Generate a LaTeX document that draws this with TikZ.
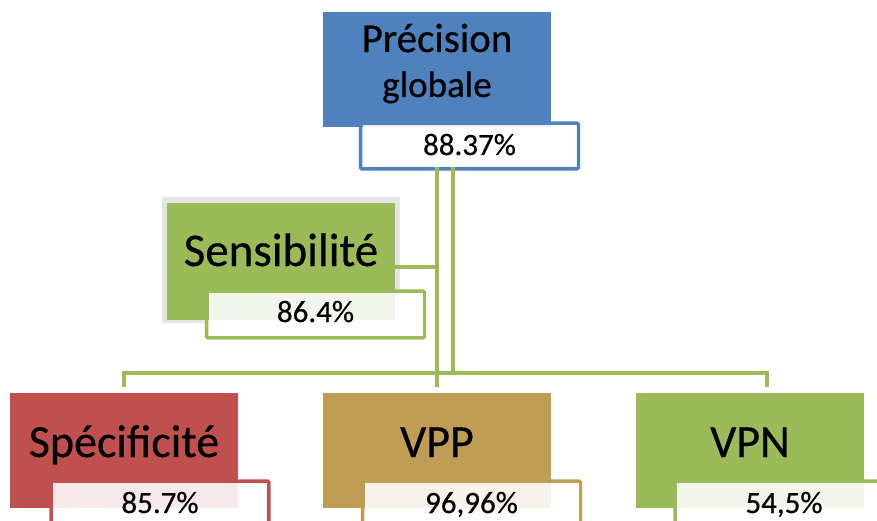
\documentclass[tikz,border=0pt]{standalone}
\usepackage{fontspec}
\setmainfont{Carlito}[FakeBold=0.5]
\usepackage{xcolor}
\usepackage{tikz}
\usetikzlibrary{backgrounds,positioning}
\definecolor{blue}{HTML}{4F81BD}
\definecolor{red}{HTML}{C0504D}
\definecolor{tan}{HTML}{C09D54}
\definecolor{green}{HTML}{9BBB59}
\definecolor{rim}{HTML}{E4E4E4}
\tikzset{
  block/.style={
    minimum width=228pt, minimum height=115pt, inner sep=0pt, text=black,
    font=\fontsize{46}{50}\selectfont, text height=20pt, text depth=7pt
  },
  headbox/.style={block, fill=blue, align=center, font=\fontsize{41}{45}\selectfont, text height=60pt, text depth=5pt},
  sensbox/.style={block, fill=green, minimum height=117pt, font=\fontsize{47}{50}\selectfont, text height=20pt, text depth=11pt},
  specbox/.style={block, fill=red},
  vppbox/.style={block, fill=tan},
  vpnbox/.style={block, fill=green},
  valbox/.style={
    minimum width=214pt, minimum height=42pt, inner sep=0pt, fill=white,
    fill opacity=.88, text opacity=1, font=\fontsize{31}{34}\selectfont,
    text height=22pt, text depth=4pt
  },
  valline/.style={line width=3.5pt, fill=white, rounded corners=1.5pt},
  link/.style={draw=green, line width=4.5pt}
}

\begin{document}
\begin{tikzpicture}[x=1pt,y=-1pt]
  \useasboundingbox (0,0) rectangle (877,521);

  % main boxes
  \node[headbox] (prec) at (437,69.5) {Précision\\{\fontsize{37}{45}\selectfont globale}};
  \node[sensbox] (sens) at (281,261.5) {Sensibilité};
  \node[specbox] (spec) at (124,450.5) {Spécificité};
  \node[vppbox] (vpp) at (437,450.5) {VPP};
  \node[vpnbox] (vpn) at (750,450.5) {VPN};

  % value boxes
  \node[valbox] (precv) at (469.5,146) {88.37\%};
  \node[valbox, minimum height=43pt, text height=20pt, text depth=5pt] (sensv) at (315.5,314.5) {86.4\%};
  \node[valbox] (specv) at (160,504) {85.7\%};
  \node[valbox] (vppv) at (471.5,504) {96,96\%};
  \node[valbox] (vpnv) at (784,504) {54,5\%};

  \begin{scope}[on background layer]
    \fill[rim] ([shift={(-5,-6)}]sens.north west) rectangle ([shift={(5,3)}]sens.south east);
    \foreach \v/\c in {precv/blue,sensv/green,specv/red,vppv/tan,vpnv/green} {
      \draw[valline, draw=\c] ([shift={(-1.75,-1.75)}]\v.north west) rectangle ([shift={(1.75,1.75)}]\v.south east);
    }
    \coordinate (tee) at (453,373);
    \draw[link] (prec.center |- precv.south) -- ([yshift=6pt]vpp.north);
    \draw[link] ([yshift=-5.5pt]sens.east) -- ([yshift=-5.5pt]sens.east -| prec.center);
    \draw[link] (precv.south -| tee) -- (tee);
    \draw[link] ([yshift=6pt]spec.north) |- (tee) -| ([xshift=17pt,yshift=6pt]vpn.north);
  \end{scope}
\end{tikzpicture}
\end{document}
